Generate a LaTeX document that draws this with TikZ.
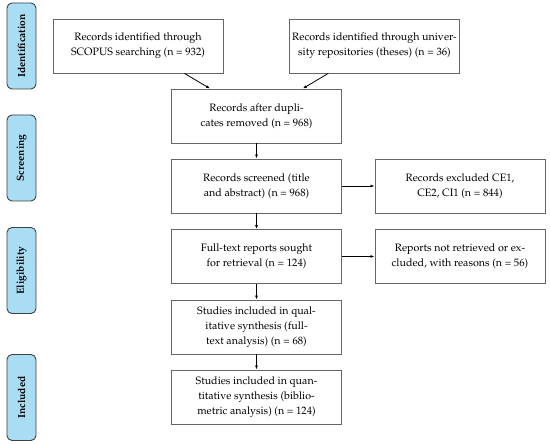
\documentclass[tikz,border=0pt]{standalone}
\usepackage[T1]{fontenc}
\usepackage{palatino}
\usetikzlibrary{arrows.meta}
\definecolor{sideblue}{RGB}{169,221,243}
\begin{document}
\begin{tikzpicture}[x=1pt,y=-1pt,
  box/.style={draw=black!60, line width=0.9pt, minimum width=170pt, minimum height=54pt, align=center, inner sep=2pt, font=\fontsize{10.7}{15}\selectfont},
  side/.style={draw=black!75, fill=sideblue, line width=0.9pt, rounded corners=5pt, minimum width=86pt, minimum height=29pt, rotate=90, font=\fontsize{10.3}{12}\selectfont\bfseries},
  arr/.style={-{Latex[length=4pt,width=3pt]}, line width=0.8pt, black}]
\useasboundingbox (0,0) rectangle (550,444);
% side labels
\node[side] (ident) at (21.5,46) {Identification};
\node[side] (screen) at (21.5,158) {Screening};
\node[side] (elig) at (21.5,270.5) {Eligibility};
\node[side] (incl) at (21.5,397.5) {Included};
% boxes
\node[box] (scopus) at (138,46) {Records identified through\\SCOPUS searching (n = 932)};
\node[box] (univ) at (374.5,46) {Records identified through univer-\\sity repositories (theses) (n = 36)};
\node[box] (dup) at (256.5,116) {Records after dupli-\\cates removed (n = 968)};
\node[box] (scr) at (256.5,186) {Records screened (title\\and abstract) (n = 968)};
\node[box] (excl) at (460,186) {Records excluded CE1,\\CE2, CI1 (n = 844)};
\node[box] (full) at (256.5,256.5) {Full-text reports sought\\for retrieval (n = 124)};
\node[box] (rep) at (460,256.5) {Reports not retrieved or ex-\\cluded, with reasons (n = 56)};
\node[box] (qual) at (256.5,327) {Studies included in qual-\\itative synthesis (full-\\text analysis) (n = 68)};
\node[box] (quant) at (256.5,397) {Studies included in quan-\\titative synthesis (biblio-\\metric analysis) (n = 124)};
% arrows
\draw[arr] (scopus) -- (dup);
\draw[arr] (univ) -- (dup);
\draw[arr] (dup) -- (scr);
\draw[arr] (scr) -- (excl);
\draw[arr] (scr) -- (full);
\draw[arr] (full) -- (rep);
\draw[arr] (full) -- (qual);
\draw[arr] (qual) -- (quant);
\end{tikzpicture}
\end{document}
